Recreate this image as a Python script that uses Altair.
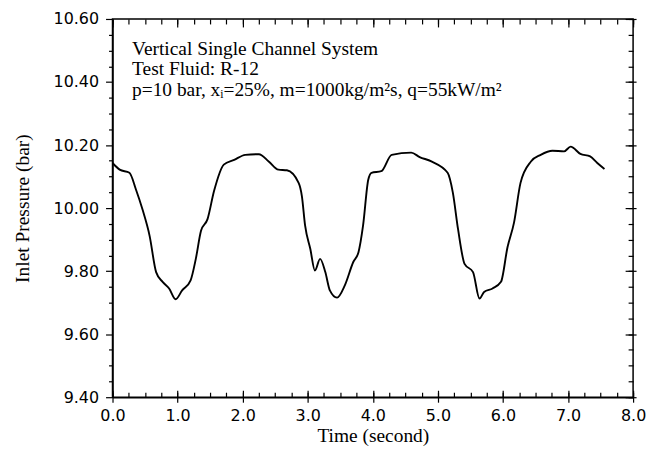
import altair as alt
import pandas as pd

time_s = [0.00, 0.11, 0.26, 0.36, 0.46, 0.57, 0.67, 0.77, 0.87, 0.97,
          1.07, 1.20, 1.28, 1.36, 1.46, 1.56, 1.71, 1.87, 2.04, 2.25,
          2.40, 2.55, 2.68, 2.86, 2.91, 2.96, 3.04, 3.11, 3.19, 3.27,
          3.34, 3.45, 3.57, 3.70, 3.78, 3.85, 3.93, 3.98, 4.13, 4.29,
          4.59, 4.72, 4.90, 5.15, 5.23, 5.31, 5.41, 5.54, 5.64, 5.71,
          5.84, 5.97, 6.07, 6.17, 6.27, 6.43, 6.58, 6.76, 6.94, 7.04,
          7.19, 7.34, 7.45, 7.56]
pressure = [10.143, 10.122, 10.112, 10.059, 9.996, 9.912, 9.797, 9.766, 9.745, 9.711,
            9.739, 9.771, 9.839, 9.928, 9.965, 10.054, 10.138, 10.153, 10.169, 10.171,
            10.148, 10.122, 10.120, 10.080, 10.038, 9.944, 9.870, 9.802, 9.839, 9.797,
            9.739, 9.716, 9.755, 9.829, 9.860, 9.944, 10.090, 10.112, 10.117, 10.169,
            10.176, 10.162, 10.148, 10.112, 10.049, 9.933, 9.823, 9.797, 9.713, 9.734,
            9.745, 9.766, 9.876, 9.954, 10.080, 10.148, 10.169, 10.182, 10.180, 10.195,
            10.172, 10.164, 10.143, 10.124]

x_major = [0, 1, 2, 3, 4, 5, 6, 7, 8]
x_minor = [i * 0.25 for i in range(33)]
y_major = [9.4, 9.6, 9.8, 10.0, 10.2, 10.4, 10.6]
y_minor = [round(9.4 + i * 0.05, 2) for i in range(25)]

ann_lines = ["Vertical Single Channel System",
             "Test Fluid: R-12",
             "p=10 bar, x\u1d62=25%, m=1000kg/m\u00b2s, q=55kW/m\u00b2"]
ann_t = [0.30, 0.30, 0.30]
ann_p = [10.487, 10.421, 10.355]

W, H = 523, 380

df = pd.DataFrame({"t": time_s, "p": pressure})
ann = pd.DataFrame({"t": ann_t, "p": ann_p, "label": ann_lines})

X_MAJOR = "datum.value % 1 === 0"
Y_MAJOR = "round(datum.value * 100) % 20 === 0"


def xs():
    return alt.Scale(domain=[0, 8], nice=False, zero=False)


def ys():
    return alt.Scale(domain=[9.4, 10.6], nice=False, zero=False)


def tick_axis(orient, values, size, offset):
    # labels kept on (but empty and transparent): axes with labels switched off
    # and an offset did not render in earlier attempts
    return alt.Axis(orient=orient, values=values, labelExpr="''", labelOpacity=0,
                    domain=False, title="", tickColor="black", tickSize=size,
                    offset=offset)


base = alt.Chart(df)

line = base.mark_line(color="black", strokeWidth=1.9, interpolate="monotone").encode(
    x=alt.X("t:Q", scale=xs(), axis=alt.Axis(
        orient="bottom", values=x_minor, format=".1f", tickColor="black",
        labelExpr=X_MAJOR + " ? datum.label : ''",
        tickSize={"condition": {"test": X_MAJOR, "value": 5}, "value": 0},
        labelPadding=5, labelFlush=False, labelOverlap=False,
        title="Time (second)", titleY=44, titleBaseline="alphabetic")),
    y=alt.Y("p:Q", scale=ys(), axis=alt.Axis(
        orient="left", values=y_minor, format=".2f", tickColor="black",
        labelExpr=Y_MAJOR + " ? datum.label : ''",
        tickSize={"condition": {"test": Y_MAJOR, "value": 7}, "value": 4},
        labelPadding=7, labelOverlap=False,
        title="Inlet Pressure (bar)", titleX=-84, titleBaseline="alphabetic")),
)

# minor inward ticks: bottom edge and right edge
inner1 = base.mark_line(strokeOpacity=0).encode(
    x=alt.X("t:Q", scale=xs(), axis=tick_axis("top", x_minor, 5, -H)),
    y=alt.Y("p:Q", scale=ys(), axis=tick_axis("left", y_minor, 5, -W)),
)
# minor inward ticks: top edge; short outward major ticks on the right edge
inner2 = base.mark_line(strokeOpacity=0).encode(
    x=alt.X("t:Q", scale=xs(), axis=tick_axis("bottom", x_minor, 5, -H)),
    y=alt.Y("p:Q", scale=ys(), axis=tick_axis("right", y_major, 3, 0)),
)
# major inward ticks: top edge and right edge
inner3 = base.mark_line(strokeOpacity=0).encode(
    x=alt.X("t:Q", scale=xs(), axis=tick_axis("bottom", x_major, 8, -H)),
    y=alt.Y("p:Q", scale=ys(), axis=tick_axis("left", y_major, 8, -W)),
)
# major inward ticks: bottom edge
inner4 = base.mark_line(strokeOpacity=0).encode(
    x=alt.X("t:Q", scale=xs(), axis=tick_axis("top", x_major, 7, -H)),
    y=alt.Y("p:Q", scale=ys(), axis=None),
)

text = alt.Chart(ann).mark_text(align="left", baseline="alphabetic", font="Liberation Serif",
                                fontSize=19.5, color="black").encode(
    x=alt.X("t:Q", scale=xs(), axis=None),
    y=alt.Y("p:Q", scale=ys(), axis=None),
    text="label:N",
)

chart = alt.layer(line, inner1, inner2, inner3, inner4, text).resolve_scale(
    x="independent", y="independent"
).properties(
    width=W, height=H,
    autosize=alt.AutoSizeParams(type="none"),
    padding={"left": 105, "top": 10, "right": 20, "bottom": 50},
).configure_view(
    stroke="black", strokeWidth=1.5
).configure_axis(
    grid=False, domainColor="black", domainWidth=1.5, tickColor="black", tickWidth=1.2,
    labelColor="black", titleColor="black", labelFont="DejaVu Sans", labelFontSize=16,
    titleFont="Liberation Serif", titleFontSize=19.5, titleFontWeight="normal",
)

chart.save("out.html", embed_options={"renderer": "svg", "actions": False})
